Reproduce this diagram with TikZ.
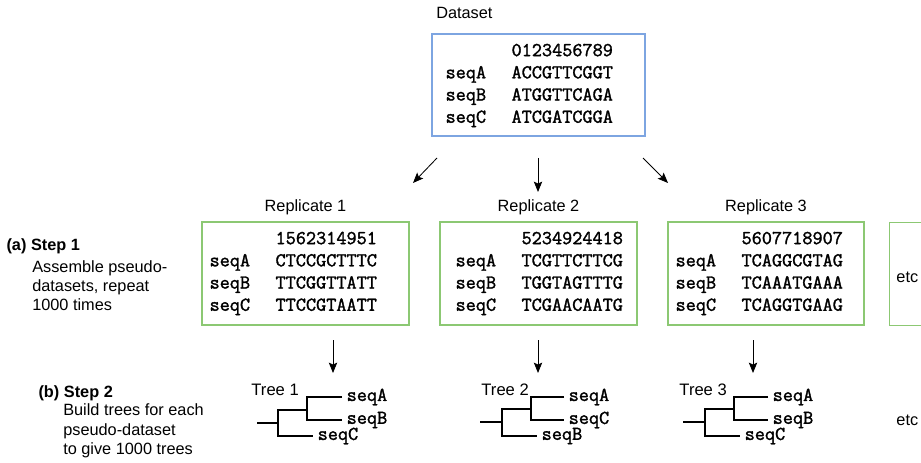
\documentclass[tikz,border=0pt]{standalone}
\usepackage{fontspec}
\setmainfont{Liberation Sans}
\newfontfamily\seqfont{Latin Modern Mono}[FakeBold=1.6]
\usetikzlibrary{positioning, arrows.meta, calc}
\definecolor{datablue}{RGB}{125,165,225}
\definecolor{repgreen}{RGB}{140,200,115}
\newcommand{\seqtable}[4]{%
  \begin{tabular}{@{}p{16.5mm}@{}l@{}}
         & #1\\
    seqA & #2\\
    seqB & #3\\
    seqC & #4
  \end{tabular}}
\tikzset{
    databox/.style={draw=datablue, line width=1pt, minimum width=53.25mm, minimum height=25.5mm},
    repbox/.style={draw=repgreen, line width=1pt, minimum height=25.75mm},
    seqtext/.style={anchor=west, inner sep=0pt, font=\seqfont\fontsize{14}{15.8}\selectfont},
    box label/.style={font=\fontsize{11.6}{13.9}\selectfont},
    step head/.style={font=\bfseries\fontsize{11.6}{13.9}\selectfont},
    step text/.style={font=\fontsize{11.6}{13.7}\selectfont, align=left, inner sep=0pt},
    tree label/.style={font=\fontsize{11.8}{13.9}\selectfont},
    leaf/.style={anchor=west, inner sep=1.1mm, font=\seqfont\fontsize{14}{15}\selectfont},
    branch/.style={line width=1.4pt},
    step_arrow/.style={line width=0.6pt, -{Stealth[length=2.6mm, width=2.1mm, inset=0.5mm]}}
}

\begin{document}
\begin{tikzpicture}[x=0.25mm, y=-0.25mm]
    \useasboundingbox (0,0) rectangle (921,463);
    \clip (0,0) rectangle (921,463);

    % --- Dataset ---
    \node (data) [databox] at (538.5,85) {};
    \node (dataseq) [seqtext] at ($(data.west)+(14,0)$) {\seqtable{0123456789}{ACCGTTCGGT}{ATGGTTCAGA}{ATCGATCGGA}};
    \node (datalab) [box label, anchor=base west] at ($(data.north west)+(0,-15)$) {Dataset};

    % --- Replicates ---
    \node (rep1) [repbox, minimum width=51.75mm] at (305.5,273.5) {};
    \node (rep1seq) [seqtext] at ($(rep1.west)+(8,-0.5)$) {\seqtable{1562314951}{CTCCGCTTTC}{TTCGGTTATT}{TTCCGTAATT}};
    \node (replab1) [box label, anchor=base] at ($(rep1.north)+(0,-10)$) {Replicate 1};

    \node (rep2) [repbox, minimum width=49.25mm] at (538.5,273.5) {};
    \node (rep2seq) [seqtext] at ($(rep2.west)+(16,-0.5)$) {\seqtable{5234924418}{TCGTTCTTCG}{TGGTAGTTTG}{TCGAACAATG}};
    \node (replab2) [box label, anchor=base] at ($(rep2.north)+(0,-10)$) {Replicate 2};

    \node (rep3) [repbox, minimum width=49mm] at (766,273.5) {};
    \node (rep3seq) [seqtext] at ($(rep3.west)+(8,-0.5)$) {\seqtable{5607718907}{TCAGGCGTAG}{TCAAATGAAA}{TCAGGTGAAG}};
    \node (replab3) [box label, anchor=base] at ($(rep3.north)+(0,-10)$) {Replicate 3};

    \node (etcbox) [repbox, minimum width=20mm, anchor=north west] at (889,222) {};
    \node (etc1) [box label, anchor=base west] at ($(etcbox.north west)+(2.5,60)$) {etc};

    % --- Arrows ---
    \coordinate (d1s) at (437,158);
    \coordinate (d1e) at (413,183);
    \coordinate (d2s) at (538,158);
    \coordinate (d2e) at (538,192);
    \coordinate (d3s) at (643,158);
    \coordinate (d3e) at (668,183);
    \draw[step_arrow] (d1s) -- (d1e);
    \draw[step_arrow] (d2s) -- (d2e);
    \draw[step_arrow] (d3s) -- (d3e);

    \coordinate (r1s) at (333,340);
    \coordinate (r1e) at (333,373);
    \coordinate (r2s) at (538,340);
    \coordinate (r2e) at (538,373);
    \coordinate (r3s) at (753,340);
    \coordinate (r3e) at (753,373);
    \draw[step_arrow] (r1s) -- (r1e);
    \draw[step_arrow] (r2s) -- (r2e);
    \draw[step_arrow] (r3s) -- (r3e);

    % --- Step descriptions ---
    \node (step1) [step head, anchor=base west] at (1.6,250) {(a) Step 1};
    \node (step1txt) [step text, anchor=north west] at (32,260.2) {Assemble pseudo-\\datasets, repeat\\1000 times};
    \node (step2) [step head, anchor=base west] at (33.6,397) {(b) Step 2};
    \node (step2txt) [step text, anchor=north west] at (63,403.8) {Build trees for each\\pseudo-dataset\\to give 1000 trees};

    % --- Tree 1 ---
    \node (tree1lab) [tree label, anchor=base west] at (246.5,395) {Tree 1};
    \node (t1A) [leaf] at (342,397) {seqA};
    \node (t1B) [leaf] at (342,420) {seqB};
    \node (t1C) [leaf] at (313,436) {seqC};
    \coordinate (t1root) at (257,423);
    \coordinate (t1n1) at (278,423);
    \coordinate (t1n2) at (307,410);
    \draw[branch] (t1A.west) -| (t1n2) |- (t1B.west);
    \draw[branch] (t1n2) -| (t1n1) |- (t1C.west);
    \draw[branch] (t1root) -- (t1n1);

    % --- Tree 2 ---
    \node (tree2lab) [tree label, anchor=base west] at (476.5,395) {Tree 2};
    \node (t2A) [leaf] at (564,397) {seqA};
    \node (t2C) [leaf] at (564,420) {seqC};
    \node (t2B) [leaf] at (537,436) {seqB};
    \coordinate (t2root) at (480,422);
    \coordinate (t2n1) at (502,422);
    \coordinate (t2n2) at (531,409);
    \draw[branch] (t2A.west) -| (t2n2) |- (t2C.west);
    \draw[branch] (t2n2) -| (t2n1) |- (t2B.west);
    \draw[branch] (t2root) -- (t2n1);

    % --- Tree 3 ---
    \node (tree3lab) [tree label, anchor=base west] at (674.5,395) {Tree 3};
    \node (t3A) [leaf] at (768,397) {seqA};
    \node (t3B) [leaf] at (768,420) {seqB};
    \node (t3C) [leaf] at (740,436) {seqC};
    \coordinate (t3root) at (683,422);
    \coordinate (t3n1) at (705,422);
    \coordinate (t3n2) at (734,409);
    \draw[branch] (t3A.west) -| (t3n2) |- (t3B.west);
    \draw[branch] (t3n2) -| (t3n1) |- (t3C.west);
    \draw[branch] (t3root) -- (t3n1);

    \node (etc2) [box label, anchor=base west] at (891.5,425) {etc};
\end{tikzpicture}
\end{document}
